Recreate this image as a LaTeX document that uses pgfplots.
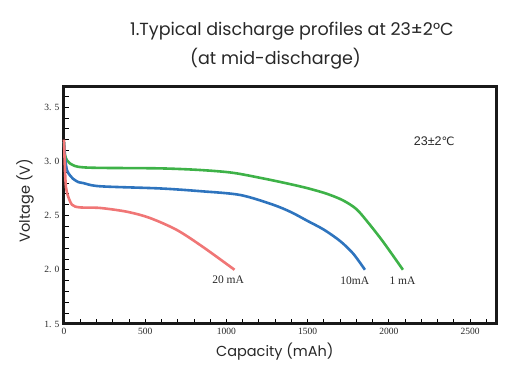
\documentclass[border=0pt]{standalone}
\usepackage{pgfplots}
\pgfplotsset{compat=1.18}
\usepackage{fontspec}
\setmainfont{Poppins}
\newfontfamily\tickfont{Liberation Serif}
\newfontfamily\lsans{Liberation Sans}
\newfontfamily\dejavu{DejaVu Sans}
\definecolor{cgreen}{RGB}{62,178,72}
\definecolor{cblue}{RGB}{46,116,190}
\definecolor{cred}{RGB}{240,118,118}
\definecolor{txt}{RGB}{40,40,40}
\begin{document}
\begin{tikzpicture}
\useasboundingbox (-64pt,-47pt) rectangle (465pt,324pt);
\begin{axis}[
  scale only axis,
  width=432pt, height=237.5pt,
  at={(0pt,0pt)}, anchor=south west,
  xmin=0, xmax=2660, ymin=1.5, ymax=3.69,
  axis line style={line width=3pt, black!90},
  tick pos=left, tick align=inside,
  xtick={0,500,1000,1500,2000,2500},
  minor xtick={100,200,...,2600},
  ytick={1.5,2.0,2.5,3.0,3.5},
  yticklabels={1. 5,2. 0,2. 5,3. 0,3. 5},
  minor ytick={1.6,1.7,...,3.65},
  major tick length=5pt, minor tick length=5pt,
  every tick/.style={black, line width=0.8pt},
  /pgf/number format/assume math mode=true,
  /pgf/number format/.cd, 1000 sep={}, /pgfplots/.cd,
  tick label style={font=\tickfont\fontsize{9.5}{9.5}\selectfont, text=txt},
  yticklabel style={xshift=-1pt},
  xticklabel style={yshift=-1pt},
  xlabel={Capacity (mAh)},
  ylabel={Voltage (V)},
  label style={font=\fontsize{14.5}{14.5}\selectfont, text=txt},
  xlabel style={at={(rel axis cs:0.488,-0.118)}, anchor=center},
  ylabel style={at={(rel axis cs:-0.09,0.52)}, anchor=center},
  clip=false,
]
\addplot[cgreen, line width=2.6pt, smooth, tension=0.5] coordinates {
(0,3.177) (6,3.06) (18,3.01) (37,2.98) (86,2.95) (203,2.94) (591,2.935)
(837,2.92) (1041,2.894) (1250,2.835) (1392,2.79) (1505,2.75) (1620,2.70)
(1718,2.64) (1800,2.56) (1870,2.44) (1964,2.26) (2087,2.0)};
\addplot[cblue, line width=2.6pt, smooth, tension=0.5] coordinates {
(0,3.177) (6,3.04) (18,2.92) (37,2.87) (55,2.84) (86,2.81) (117,2.80)
(222,2.77) (591,2.75) (837,2.725) (1084,2.69) (1287,2.60) (1400,2.53)
(1500,2.45) (1600,2.37) (1700,2.265) (1780,2.15) (1853,2.0)};
\addplot[cred, line width=2.6pt, smooth, tension=0.5] coordinates {
(0,3.2) (6,2.92) (12,2.76) (20,2.70) (49,2.60) (99,2.575) (222,2.57)
(388,2.535) (530,2.477) (696,2.366) (856,2.21) (1050,2.0)};
\node[font=\tickfont\fontsize{11.5}{11.5}\selectfont, text=txt] at (axis cs:1011,1.905) {20 mA};
\node[font=\tickfont\fontsize{11.5}{11.5}\selectfont, text=txt] at (axis cs:1790,1.90) {10mA};
\node[font=\tickfont\fontsize{11.5}{11.5}\selectfont, text=txt] at (axis cs:2084,1.90) {1 mA};
\node[text=txt, inner sep=0pt] at (axis cs:2280,3.19) {\lsans\fontsize{12.5}{12.5}\selectfont 23±2\dejavu\fontsize{11.5}{11.5}\selectfont ℃};
\end{axis}
\node[anchor=west, text=txt, font=\fontsize{17.5}{17.5}\selectfont, inner sep=0pt] at (66pt,293pt) {1.Typical discharge profiles at 23±2°C};
\node[anchor=west, text=txt, font=\fontsize{17.5}{17.5}\selectfont, inner sep=0pt] at (126pt,265pt) {(at mid-discharge)};
\end{tikzpicture}
\end{document}
